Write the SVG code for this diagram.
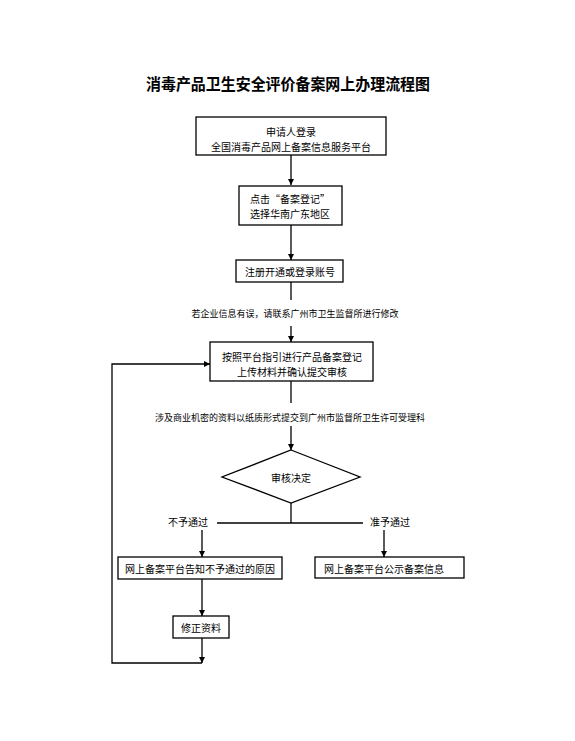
<svg xmlns="http://www.w3.org/2000/svg" width="575" height="741" viewBox="0 0 575 741">
<style>
text{font-family:"Noto Sans CJK SC","Liberation Sans",sans-serif;fill:#000;text-anchor:middle;dominant-baseline:central}
.t{font-size:16px;font-weight:bold}
.b{font-size:10px}
.l{font-size:9px}
.box{fill:#fff;stroke:#000;stroke-width:1.3}
.c{fill:none;stroke:#000;stroke-width:1.3}
</style>
<defs>
<marker id="ah" viewBox="0 0 10 10" refX="10" refY="5" markerWidth="6" markerHeight="7" markerUnits="userSpaceOnUse" orient="auto">
<path d="M0,0 L10,5 L0,10 z" fill="#000"/>
</marker>
</defs>
<rect width="575" height="741" fill="#fff"/>
<text class="t" x="288" y="83" textLength="284" lengthAdjust="spacingAndGlyphs">消毒产品卫生安全评价备案网上办理流程图</text>
<g id="connectors">
<line class="c" x1="291" y1="155" x2="291" y2="185" marker-end="url(#ah)"/>
<line class="c" x1="291" y1="225" x2="291" y2="260" marker-end="url(#ah)"/>
<line class="c" x1="291" y1="282" x2="291" y2="300"/>
<line class="c" x1="291" y1="326" x2="291" y2="342" marker-end="url(#ah)"/>
<line class="c" x1="291" y1="381" x2="291" y2="403"/>
<line class="c" x1="291" y1="426" x2="291" y2="450" marker-end="url(#ah)"/>
<line class="c" x1="291" y1="503" x2="291" y2="523"/>
<line class="c" x1="217" y1="523" x2="363" y2="523"/>
<line class="c" x1="202" y1="530" x2="202" y2="557" marker-end="url(#ah)"/>
<line class="c" x1="384" y1="530" x2="384" y2="557" marker-end="url(#ah)"/>
<line class="c" x1="202" y1="579" x2="202" y2="616" marker-end="url(#ah)"/>
<line class="c" x1="202" y1="638" x2="202" y2="663" marker-end="url(#ah)"/>
<polyline class="c" points="202,663 112,663 112,364 210,364" marker-end="url(#ah)"/>
<text class="l" x="295" y="313">若企业信息有误，请联系广州市卫生监督所进行修改</text>
<text class="l" x="290" y="417">涉及商业机密的资料以纸质形式提交到广州市监督所卫生许可受理科</text>
<text class="b" x="188" y="521">不予通过</text>
<text class="b" x="390" y="521">准予通过</text>
</g>
<g id="n1"><rect class="box" x="196" y="117" width="190" height="38"/><text class="b" x="291" y="131">申请人登录</text><text class="b" x="291" y="146">全国消毒产品网上备案信息服务平台</text></g>
<g id="n2"><rect class="box" x="239" y="186" width="103" height="39"/><text class="b" x="290" y="198">点击“备案登记”</text><text class="b" x="290" y="213">选择华南广东地区</text></g>
<g id="n3"><rect class="box" x="236" y="260" width="107" height="22"/><text class="b" x="290" y="271">注册开通或登录账号</text></g>
<g id="n4"><rect class="box" x="210" y="342" width="163" height="39"/><text class="b" x="292" y="356">按照平台指引进行产品备案登记</text><text class="b" x="292" y="371">上传材料并确认提交审核</text></g>
<g id="n5"><polygon class="box" points="291,450 360,477 291,503 222,477"/><text class="b" x="291" y="477">审核决定</text></g>
<g id="n6"><rect class="box" x="118" y="557" width="164" height="22"/><text class="b" x="200" y="568">网上备案平台告知不予通过的原因</text></g>
<g id="n7"><rect class="box" x="315" y="557" width="149" height="21"/><text class="b" x="384" y="568">网上备案平台公示备案信息</text></g>
<g id="n8"><rect class="box" x="173" y="616" width="56" height="22"/><text class="b" x="201" y="627">修正资料</text></g>
</svg>
